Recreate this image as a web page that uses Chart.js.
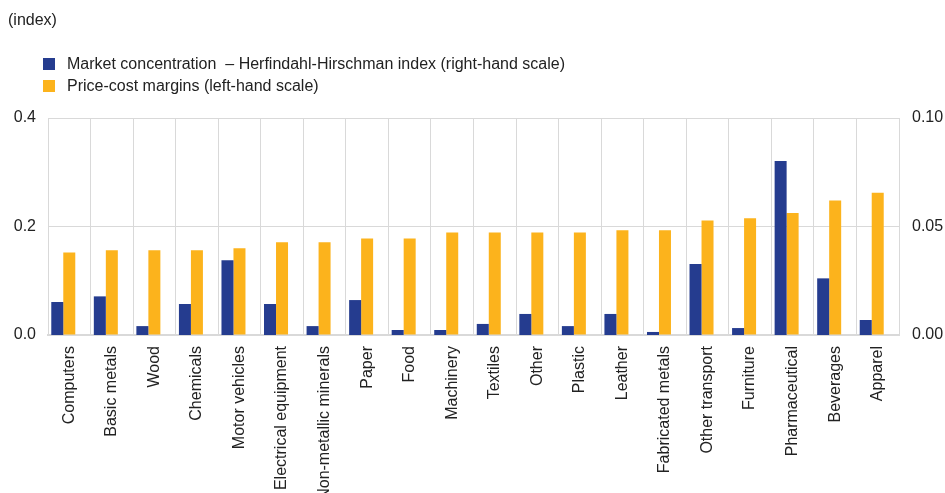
<!DOCTYPE html>
<html>
<head>
<meta charset="utf-8">
<script src="https://cdn.jsdelivr.net/npm/chart.js@4.4.0/dist/chart.umd.min.js"></script>
<style>
    body { margin: 0; background: #fff; font-family: "Liberation Sans", Arial, sans-serif; color: #222; }
    #wrap { position: relative; width: 945px; height: 493px; }
    #unit { position: absolute; left: 8px; top: 11px; font-size: 16px; }
    .leg { position: absolute; left: 43px; font-size: 16px; display: flex; align-items: center; white-space: pre; }
    .sw { width: 12px; height: 12px; margin-right: 12px; }
    canvas { position: absolute; left: 0; top: 0; }
</style>
</head>
<body>
<div id="wrap">
    <canvas id="chart" width="945" height="493"></canvas>
    <div id="unit">(index)</div>
    <div class="leg" style="top:55px"><div class="sw" style="background:#253c8f"></div><span id="leg1"></span></div>
    <div class="leg" style="top:77px"><div class="sw" style="background:#fcb31c"></div><span id="leg2"></span></div>
</div>
<script>
const sectors = ['Computers', 'Basic metals', 'Wood', 'Chemicals', 'Motor vehicles', 'Electrical equipment',
    'Non-metallic minerals', 'Paper', 'Food', 'Machinery', 'Textiles', 'Other', 'Plastic', 'Leather',
    'Fabricated metals', 'Other transport', 'Furniture', 'Pharmaceutical', 'Beverages', 'Apparel'];

// right-hand scale
const hhi = [0.0152, 0.0178, 0.0041, 0.0143, 0.0344, 0.0143, 0.0041, 0.0161, 0.0023, 0.0023,
    0.0051, 0.0097, 0.0041, 0.0097, 0.0014, 0.0327, 0.0032, 0.0802, 0.0261, 0.0069];

// left-hand scale
const margins = [0.152, 0.156, 0.156, 0.156, 0.160, 0.171, 0.171, 0.178, 0.178, 0.189,
    0.189, 0.189, 0.189, 0.193, 0.193, 0.211, 0.215, 0.225, 0.248, 0.262];

const leftTicks = [0, 0.2, 0.4];
const rightTicks = [0, 0.05, 0.10];

const hhiLabel = 'Market concentration  \u2013 Herfindahl-Hirschman index (right-hand scale)';
const marginLabel = 'Price-cost margins (left-hand scale)';

document.getElementById('leg1').textContent = hhiLabel;
document.getElementById('leg2').textContent = marginLabel;

const tickFont = { family: '"Liberation Sans", Arial, sans-serif', size: 16 };
const gridColour = '#d9d9d9';

new Chart(document.getElementById('chart').getContext('2d'), {
    type: 'bar',
    data: {
        labels: sectors,
        datasets: [
            {
                label: hhiLabel,
                data: hhi,
                backgroundColor: '#253c8f',
                yAxisID: 'y1'
            },
            {
                label: marginLabel,
                data: margins,
                backgroundColor: '#fcb31c',
                yAxisID: 'y'
            },
            {
                // empty slot so the pair sits left of centre, as in the original
                label: '',
                data: [],
                yAxisID: 'y'
            }
        ]
    },
    options: {
        responsive: false,
        animation: false,
        categoryPercentage: 0.846,
        barPercentage: 1,
        layout: { padding: { top: 118, left: 0, right: 0, bottom: 0 } },
        plugins: {
            legend: { display: false },
            tooltip: { enabled: false }
        },
        scales: {
            x: {
                grid: { color: gridColour, drawTicks: false },
                border: { color: gridColour, width: 2 },
                ticks: {
                    color: '#222',
                    font: tickFont,
                    autoSkip: false,
                    minRotation: 90,
                    maxRotation: 90,
                    padding: 11
                },
                afterFit: s => { s.height = 158; }
            },
            y: {
                position: 'left',
                min: 0,
                max: 0.4,
                grid: { color: gridColour, drawTicks: false },
                border: { display: false },
                afterBuildTicks: s => { s.ticks = leftTicks.map(v => ({ value: v })); },
                ticks: {
                    color: '#222',
                    font: tickFont,
                    padding: 12,
                    callback: v => v.toFixed(1)
                },
                afterFit: s => { s.width = 48; }
            },
            y1: {
                position: 'right',
                min: 0,
                max: 0.1,
                grid: { display: false, drawTicks: false },
                border: { display: false },
                afterBuildTicks: s => { s.ticks = rightTicks.map(v => ({ value: v })); },
                ticks: {
                    color: '#222',
                    font: tickFont,
                    padding: 13,
                    callback: v => v.toFixed(2)
                },
                afterFit: s => { s.width = 46; }
            }
        }
    }
});
</script>
</body>
</html>
